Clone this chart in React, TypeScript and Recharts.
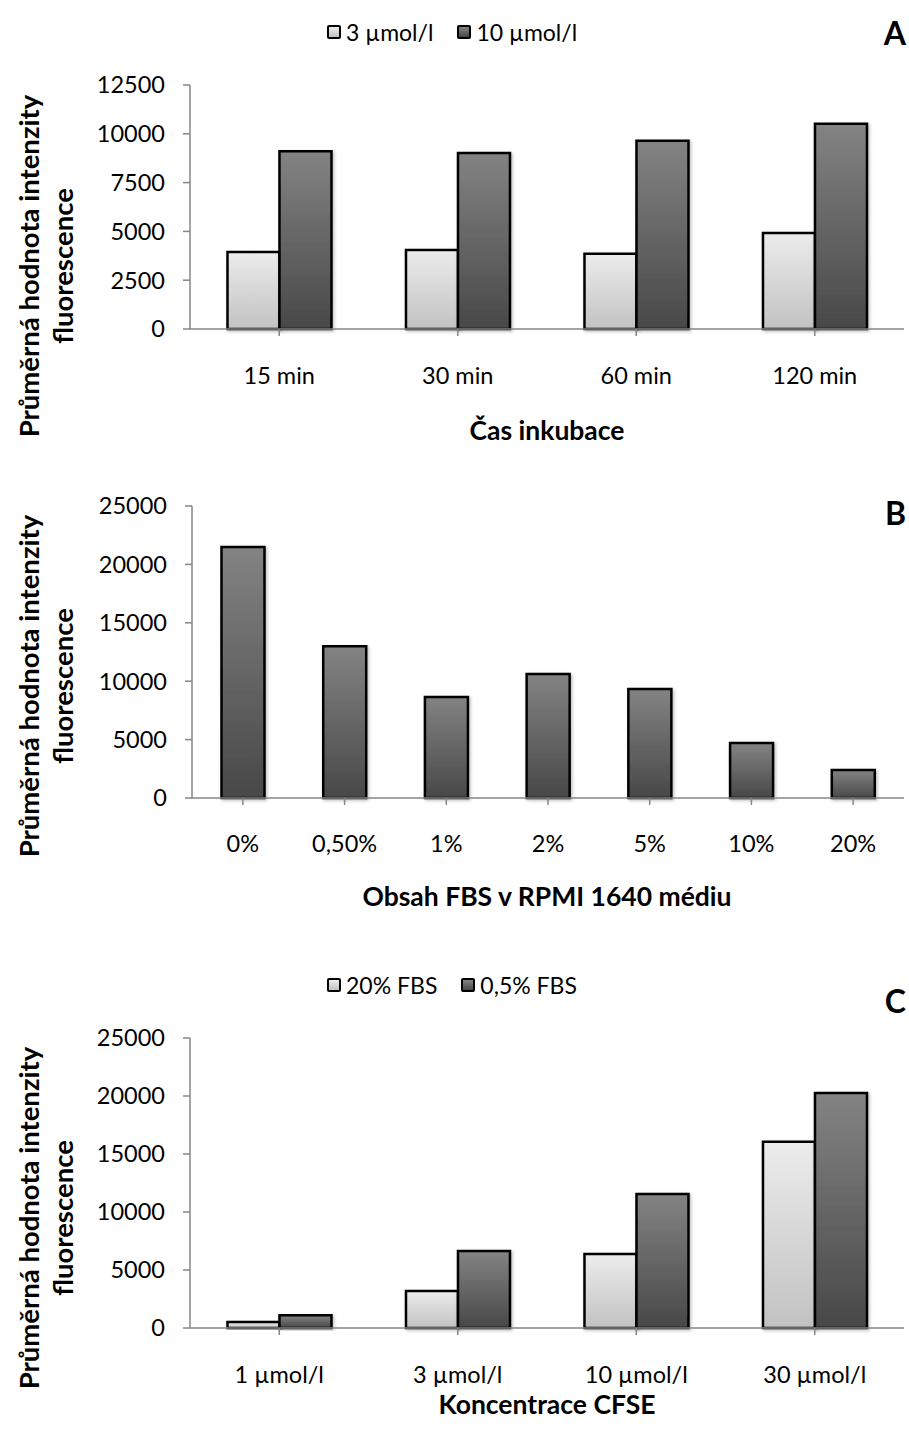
import React from "react";
import { Bar, BarChart, Label, XAxis, YAxis } from "recharts";

// ---- data ----
const timeCats = ["15 min", "30 min", "60 min", "120 min"];
const time3 = [3950, 4050, 3850, 4920];
const time10 = [9100, 9020, 9640, 10510];
const timeTicks = [0, 2500, 5000, 7500, 10000, 12500];

const fbsCats = ["0%", "0,50%", "1%", "2%", "5%", "10%", "20%"];
const fbsVals = [21500, 13000, 8650, 10620, 9330, 4710, 2400];

const cfseCats = ["1 µmol/l", "3 µmol/l", "10 µmol/l", "30 µmol/l"];
const cfse20 = [520, 3200, 6380, 16050];
const cfse05 = [1100, 6640, 11550, 20250];
const bigTicks = [0, 5000, 10000, 15000, 20000, 25000];

const FONT = "Lato, 'Open Sans', sans-serif";
const AXIS = "#868686";

const timeData = timeCats.map((c, i) => ({ cat: c, a: time3[i], b: time10[i] }));
const fbsData = fbsCats.map((c, i) => ({ cat: c, b: fbsVals[i] }));
const cfseData = cfseCats.map((c, i) => ({ cat: c, a: cfse20[i], b: cfse05[i] }));

function Defs({ id }: { id: string }) {
  return (
    <defs>
      <linearGradient id={`light-${id}`} x1="0" y1="0" x2="0" y2="1">
        <stop offset="0%" stopColor="#ececec" />
        <stop offset="100%" stopColor="#c2c2c2" />
      </linearGradient>
      <linearGradient id={`dark-${id}`} x1="0" y1="0" x2="0" y2="1">
        <stop offset="0%" stopColor="#838383" />
        <stop offset="100%" stopColor="#484848" />
      </linearGradient>
      <filter id={`shadow-${id}`} x="-20%" y="-20%" width="140%" height="140%">
        <feDropShadow dx="1.5" dy="1.5" stdDeviation="1.5" floodColor="#000" floodOpacity="0.25" />
      </filter>
    </defs>
  );
}

function yTitle(centerY: number) {
  return () => (
    <g fontFamily={FONT} fontWeight={700} fontSize={27.5} fill="#000">
      <text x={28} y={centerY} transform={`rotate(-90 28 ${centerY})`} textAnchor="middle" dominantBaseline="central">
        Průměrná hodnota intenzity
      </text>
      <text x={62} y={centerY} transform={`rotate(-90 62 ${centerY})`} textAnchor="middle" dominantBaseline="central">
        fluorescence
      </text>
    </g>
  );
}

function xTitle(text: string, y: number, letter: string, letterY: number) {
  return () => (
    <g fontFamily={FONT} fill="#000">
      <text x={547} y={y} textAnchor="middle" dominantBaseline="central" fontWeight={700} fontSize={26.5}>
        {text}
      </text>
      <text x={906} y={letterY} textAnchor="end" dominantBaseline="central" fontWeight={700} fontSize={32}>
        {letter}
      </text>
    </g>
  );
}

function Legend({ items, top }: { items: { name: string; dark: boolean }[]; top: number }) {
  return (
    <div
      style={{
        position: "absolute",
        top,
        left: 327,
        display: "flex",
        alignItems: "center",
        gap: 24,
        fontFamily: FONT,
        fontSize: 23,
        lineHeight: "28px",
      }}
    >
      {items.map((it) => (
        <div key={it.name} style={{ display: "flex", alignItems: "center", gap: 5 }}>
          <span
            style={{
              width: 10,
              height: 10,
              border: "2px solid #000",
              borderRadius: 2,
              background: it.dark
                ? "linear-gradient(#838383, #484848)"
                : "linear-gradient(#ececec, #c2c2c2)",
            }}
          />
          <span>{it.name}</span>
        </div>
      ))}
    </div>
  );
}

const tickStyle = { fontFamily: FONT, fontSize: 23.5, fill: "#000" };

export default function App() {
  return (
    <div style={{ position: "absolute", left: 0, top: 0, width: 909, height: 1436, background: "#fff" }}>
      {/* A */}
      <Legend items={[{ name: "3 µmol/l", dark: false }, { name: "10 µmol/l", dark: true }]} top={18} />
      <div style={{ position: "absolute", top: 0, left: 0 }}>
        <BarChart width={909} height={470} data={timeData} margin={{ top: 85, right: 5, bottom: 41, left: 0 }}
          barCategoryGap="21%" barGap={0}>
          <Defs id="a" />
          <XAxis dataKey="cat" height={100} stroke={AXIS} strokeWidth={1.5} tickSize={7} tickMargin={31}
            tick={tickStyle} interval={0}>
            <Label content={xTitle("Čas inkubace", 430, "A", 32)} />
          </XAxis>
          <YAxis width={190} domain={[0, 12500]} ticks={timeTicks} stroke={AXIS} strokeWidth={1.5} tickSize={7}
            tickMargin={18} tick={tickStyle} interval={0}>
            <Label content={yTitle(266)} />
          </YAxis>
          <Bar dataKey="a" name="3 µmol/l" fill="url(#light-a)" stroke="#000" strokeWidth={2.5}
            filter="url(#shadow-a)" isAnimationActive={false} />
          <Bar dataKey="b" name="10 µmol/l" fill="url(#dark-a)" stroke="#000" strokeWidth={2.5}
            filter="url(#shadow-a)" isAnimationActive={false} />
        </BarChart>
      </div>

      {/* B */}
      <div style={{ position: "absolute", top: 470, left: 0 }}>
        <BarChart width={909} height={480} data={fbsData} margin={{ top: 36, right: 5, bottom: 52, left: 0 }}
          barCategoryGap="29%">
          <Defs id="b" />
          <XAxis dataKey="cat" height={100} stroke={AXIS} strokeWidth={1.5} tickSize={7} tickMargin={30}
            tick={tickStyle} interval={0}>
            <Label content={xTitle("Obsah FBS v RPMI 1640 médiu", 426, "B", 42)} />
          </XAxis>
          <YAxis width={192} domain={[0, 25000]} ticks={bigTicks} stroke={AXIS} strokeWidth={1.5} tickSize={7}
            tickMargin={18} tick={tickStyle} interval={0}>
            <Label content={yTitle(216)} />
          </YAxis>
          <Bar dataKey="b" name="FBS" fill="url(#dark-b)" stroke="#000" strokeWidth={2.5}
            filter="url(#shadow-b)" isAnimationActive={false} />
        </BarChart>
      </div>

      {/* C */}
      <Legend items={[{ name: "20% FBS", dark: false }, { name: "0,5% FBS", dark: true }]} top={971} />
      <div style={{ position: "absolute", top: 950, left: 0 }}>
        <BarChart width={909} height={486} data={cfseData} margin={{ top: 88, right: 5, bottom: 8, left: 0 }}
          barCategoryGap="21%" barGap={0}>
          <Defs id="c" />
          <XAxis dataKey="cat" height={100} stroke={AXIS} strokeWidth={1.5} tickSize={7} tickMargin={31}
            tick={tickStyle} interval={0}>
            <Label content={xTitle("Koncentrace CFSE", 454, "C", 50)} />
          </XAxis>
          <YAxis width={190} domain={[0, 25000]} ticks={bigTicks} stroke={AXIS} strokeWidth={1.5} tickSize={7}
            tickMargin={18} tick={tickStyle} interval={0}>
            <Label content={yTitle(268)} />
          </YAxis>
          <Bar dataKey="a" name="20% FBS" fill="url(#light-c)" stroke="#000" strokeWidth={2.5}
            filter="url(#shadow-c)" isAnimationActive={false} />
          <Bar dataKey="b" name="0,5% FBS" fill="url(#dark-c)" stroke="#000" strokeWidth={2.5}
            filter="url(#shadow-c)" isAnimationActive={false} />
        </BarChart>
      </div>
    </div>
  );
}
